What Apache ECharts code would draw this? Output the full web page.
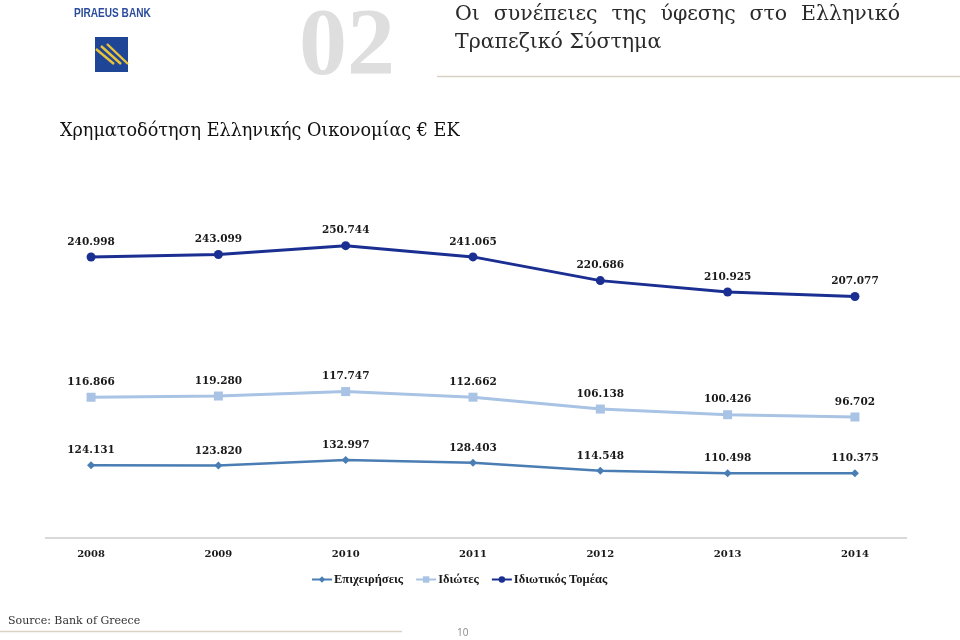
<!DOCTYPE html>
<html>
<head>
<meta charset="utf-8">
<script src="https://cdn.jsdelivr.net/npm/echarts@6/dist/echarts.min.js"></script>
<style>
html,body{margin:0;padding:0;background:#fff;}
#chart{width:960px;height:640px;}
</style>
</head>
<body>
<div id="chart"></div>
<script>
// Data
var years = ['2008', '2009', '2010', '2011', '2012', '2013', '2014'];
var epixeiriseis = [124.131, 123.820, 132.997, 128.403, 114.548, 110.498, 110.375];
var idiotes = [116.866, 119.280, 117.747, 112.662, 106.138, 100.426, 96.702];
var idiotikosTomeas = [240.998, 243.099, 250.744, 241.065, 220.686, 210.925, 207.077];
var seriesNames = ['Επιχειρήσεις', 'Ιδιώτες', 'Ιδιωτικός Τομέας'];
var titleLine1 = ['Οι', 'συνέπειες', 'της', 'ύφεσης', 'στο', 'Ελληνικό'];
var titleLine2 = 'Τραπεζικό Σύστημα';
var subtitle = 'Χρηματοδότηση Ελληνικής Οικονομίας € ΕΚ';

var chart = echarts.init(document.getElementById('chart'), null, {renderer: 'canvas'});

var labelStyle = {
  show: true,
  position: 'top',
  distance: 5,
  fontFamily: 'DejaVu Serif',
  fontWeight: 'bold',
  fontSize: 10.5,
  color: '#1a1a1a',
  formatter: function (p) { return Number(p.value).toFixed(3); }
};

var titleFont = '20.5px "DejaVu Serif"';

var graphics = [
  // Bank name and logo
  {type: 'text', left: 74, top: 8, style: {text: 'PIRAEUS BANK', font: 'bold 12px "Liberation Sans"', fill: '#2b4c9c'}, scaleX: 0.84},
  {type: 'rect', shape: {x: 95, y: 37, width: 33, height: 35}, style: {fill: '#1f4597'}},
  {type: 'line', shape: {x1: 96, y1: 49, x2: 114, y2: 64}, style: {stroke: '#e9c338', lineWidth: 2.4}},
  {type: 'line', shape: {x1: 101, y1: 46, x2: 121, y2: 64}, style: {stroke: '#e9c338', lineWidth: 2.4}},
  {type: 'line', shape: {x1: 107, y1: 44, x2: 128, y2: 64}, style: {stroke: '#e9c338', lineWidth: 2.4}},
  // Big chapter number
  {type: 'text', left: 299, top: 1, style: {text: '02', font: 'bold 96px "Liberation Serif"', fill: '#dedede'}},
  // Second title line
  {type: 'text', left: 455, top: 32, style: {text: titleLine2, font: titleFont, fill: '#2a2a2a'}},
  // Header rule
  {type: 'line', shape: {x1: 437, y1: 76.5, x2: 960, y2: 76.5}, style: {stroke: '#d8d2c4', lineWidth: 1.5}},
  // Subtitle
  {type: 'text', left: 60, top: 122, style: {text: subtitle, font: '17.6px "DejaVu Serif"', fill: '#111'}},
  // Axis baseline
  {type: 'line', shape: {x1: 45, y1: 538, x2: 907, y2: 538}, style: {stroke: '#d9d9d9', lineWidth: 2}},
  // Footer
  {type: 'text', left: 8, top: 616, style: {text: 'Source: Bank of Greece', font: '11px "DejaVu Serif"', fill: '#333'}},
  {type: 'line', shape: {x1: 0, y1: 631.5, x2: 402, y2: 631.5}, style: {stroke: '#dcd3c2', lineWidth: 1.5}},
  {type: 'text', left: 457, top: 628, style: {text: '10', font: '10px "Open Sans"', fill: '#888'}}
];

// Justify first title line between x=455 and x=900
(function () {
  var ctx = document.createElement('canvas').getContext('2d');
  ctx.font = titleFont;
  var widths = titleLine1.map(function (w) { return ctx.measureText(w).width; });
  var total = widths.reduce(function (a, b) { return a + b; }, 0);
  var gap = (900 - 455 - total) / (titleLine1.length - 1);
  var x = 455;
  titleLine1.forEach(function (w, i) {
    graphics.push({type: 'text', left: x, top: 4, style: {text: w, font: titleFont, fill: '#2a2a2a'}});
    x += widths[i] + gap;
  });
})();

var option = {
  animation: false,
  backgroundColor: '#ffffff',
  grid: {left: 27.4, right: 41.4, top: 188.3, bottom: 102.5, containLabel: false},
  legend: {
    data: seriesNames,
    left: 306,
    top: 568,
    itemWidth: 20,
    itemHeight: 8,
    itemGap: 12,
    textStyle: {fontFamily: 'Liberation Serif', fontWeight: 'bold', fontSize: 12.5, color: '#1a1a1a', padding: [0, 0, 0, -3]}
  },
  xAxis: {
    type: 'category',
    data: years,
    boundaryGap: true,
    axisLine: {show: false},
    axisTick: {show: false},
    splitLine: {show: false},
    axisLabel: {fontFamily: 'DejaVu Serif', fontWeight: 'bold', fontSize: 10, color: '#1a1a1a', margin: 12}
  },
  yAxis: {
    type: 'value',
    min: 0,
    max: 600,
    show: false,
    splitLine: {show: false}
  },
  series: [
    {
      name: seriesNames[0],
      type: 'line',
      stack: 'total',
      data: epixeiriseis,
      symbol: 'diamond',
      symbolSize: 8,
      lineStyle: {color: '#4a7db3', width: 2.5},
      itemStyle: {color: '#4a7db3'},
      label: labelStyle
    },
    {
      name: seriesNames[1],
      type: 'line',
      stack: 'total',
      data: idiotes,
      symbol: 'rect',
      symbolSize: 9,
      lineStyle: {color: '#a8c3e3', width: 3},
      itemStyle: {color: '#a8c3e3'},
      label: labelStyle
    },
    {
      name: seriesNames[2],
      type: 'line',
      stack: 'total',
      data: idiotikosTomeas,
      symbol: 'circle',
      symbolSize: 9,
      lineStyle: {color: '#1a2f91', width: 3},
      itemStyle: {color: '#1a2f91'},
      label: labelStyle
    }
  ],
  graphic: graphics
};
chart.setOption(option);
</script>
</body>
</html>
